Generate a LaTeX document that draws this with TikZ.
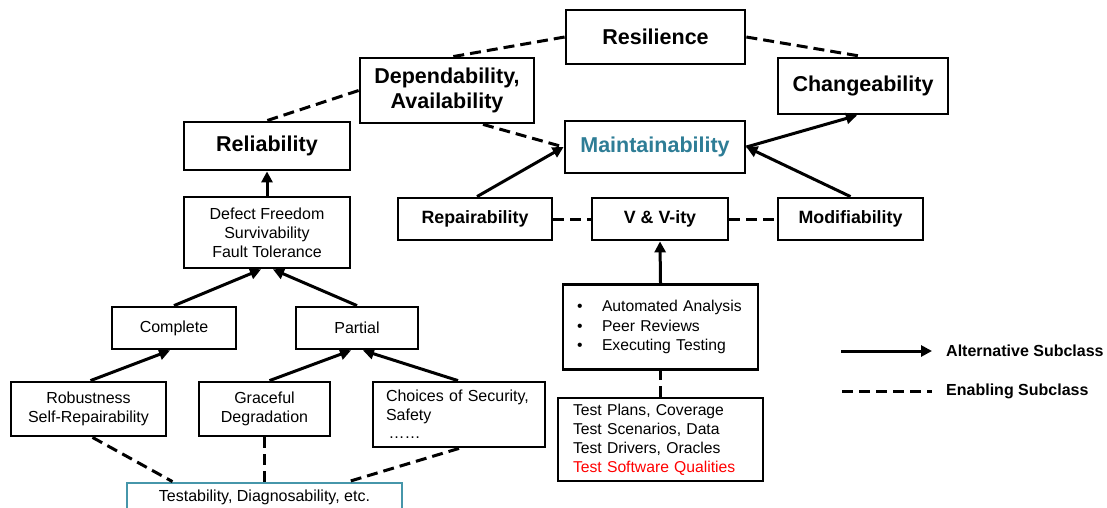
\documentclass[tikz,border=0pt]{standalone}
\usepackage{fontspec}
\setmainfont{Liberation Sans}
\usetikzlibrary{arrows.meta}
\definecolor{tealtxt}{RGB}{46,125,150}
\definecolor{tealbox}{RGB}{70,150,170}
\tikzset{
  box/.style={draw=black, line width=2.8pt, inner sep=0pt, align=center, fill=white},
  bigb/.style={box, font=\fontsize{21.5}{24.5}\selectfont\bfseries},
  midb/.style={box, font=\fontsize{17.8}{20}\selectfont\bfseries},
  reg/.style={box, font=\fontsize{16}{19}\selectfont},
  alt/.style={line width=3pt, -{Triangle[length=11pt,width=11pt]}},
  enab/.style={line width=3pt, dash pattern=on 11pt off 6pt},
}
\newcommand{\bul}{\makebox[32pt][l]{\hspace{7pt}\textbullet}}
\begin{document}
\begin{tikzpicture}[x=1pt,y=-1pt]
\useasboundingbox (0,0) rectangle (1107,507);
\clip (0,0) rectangle (1107,507);
% top level
\node[bigb, minimum width=179, minimum height=54] (res) at (655.5,37) {Resilience};
\node[bigb, minimum width=170, minimum height=56] (chg) at (863,86) {Changeability};
\node[bigb, minimum width=174, minimum height=65] (dep) at (447,90.5) {Dependability,\\Availability};
\node[bigb, minimum width=180, minimum height=52, text=tealtxt] (mnt) at (655,147) {Maintainability};
\node[bigb, minimum width=166, minimum height=48] (rel) at (267,146) {Reliability};
% second row
\node[reg, minimum width=166, minimum height=71] (def) at (267,232.5) {Defect Freedom\\Survivability\\Fault Tolerance};
\node[midb, minimum width=154, minimum height=42] (rep) at (475,219) {Repairability};
\node[midb, minimum width=136, minimum height=42] (vv) at (660,219) {V \& V-ity};
\node[midb, minimum width=145, minimum height=42] (mod) at (850.5,219) {Modifiability};
% third row
\node[reg, minimum width=124, minimum height=42] (cmp) at (174,328) {Complete};
\node[reg, minimum width=122, minimum height=42] (par) at (357,328) {Partial};
\node[reg, minimum width=195, minimum height=85, font=\fontsize{15.7}{19.5}\selectfont, align=left, text width=181pt] (auto) at (660.5,327)
  {\bul Automated Analysis\\\bul Peer Reviews\\\bul Executing Testing};
% fourth row
\node[reg, minimum width=155, minimum height=54] (rob) at (88.5,409) {Robustness\\Self-Repairability};
\node[reg, minimum width=131, minimum height=54] (gra) at (264.5,409) {Graceful\\Degradation};
\node[reg, minimum width=172, minimum height=65, align=left, text width=146pt] (cho) at (459,414.5)
  {Choices of Security,\\Safety\\[-1pt]\,\textellipsis\textellipsis};
\node[reg, minimum width=205, minimum height=83, align=left, text width=175pt, font=\fontsize{15.7}{19}\selectfont] (tst) at (660.5,439.5)
  {Test Plans, Coverage\\Test Scenarios, Data\\Test Drivers, Oracles\\\textcolor{red}{Test Software Qualities}};
\node[reg, draw=tealbox, minimum width=275, minimum height=28, font=\fontsize{16}{19}\selectfont] (tdb) at (264.5,497) {Testability, Diagnosability, etc.};
% connectors: enabling
\draw[enab] (res.west) -- ([xshift=6]dep.north);
\draw[enab] (res.east) -- (chg.north);
\draw[enab] (dep.west) -- (rel.north);
\draw[enab] ([xshift=36]dep.south) -- (mnt.west);
\draw[enab] (rep.east) -- (vv.west);
\draw[enab] (vv.east) -- (mod.west);
\draw[enab] (tst.north) -- (auto.south);
\draw[enab] ([xshift=4]rob.south) -- ([xshift=-92]tdb.north);
\draw[enab] (gra.south) -- (tdb.north);
\draw[enab] (cho.south) -- ([xshift=84]tdb.north);
% connectors: alternative
\draw[alt] ([xshift=2]rep.north) -- (mnt.west);
\draw[alt] (mnt.east) -- ([xshift=-6]chg.south);
\draw[alt] (mod.north) -- (mnt.east);
\draw[alt] (auto.north) -- (vv.south);
\draw[alt] (def.north) -- (rel.south);
\draw[alt] (cmp.north) -- ([xshift=-6]def.south);
\draw[alt] (par.north) -- ([xshift=6]def.south);
\draw[alt] ([xshift=2]rob.north) -- ([xshift=-4]cmp.south);
\draw[alt] ([xshift=5]gra.north) -- ([xshift=-6]par.south);
\draw[alt] ([xshift=-1]cho.north) -- ([xshift=6]par.south);
% legend
\coordinate (l1a) at (841,351);
\coordinate (l1b) at (932,351);
\coordinate (l2a) at (842,391);
\coordinate (l2b) at (932,391);
\draw[alt] (l1a) -- (l1b);
\draw[enab] (l2a) -- (l2b);
\node[anchor=west, inner sep=0pt, font=\fontsize{16}{18}\selectfont\bfseries] (lt1) at (946,351) {Alternative Subclass};
\node[anchor=west, inner sep=0pt, font=\fontsize{16}{18}\selectfont\bfseries] (lt2) at (946,391) {Enabling Subclass};
\end{tikzpicture}
\end{document}
